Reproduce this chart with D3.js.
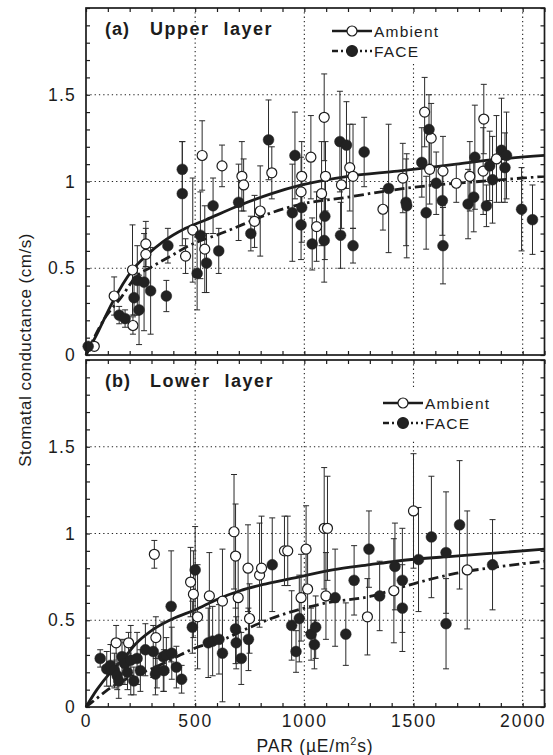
<!DOCTYPE html>
<html><head><meta charset="utf-8">
<script src="https://cdn.jsdelivr.net/npm/d3@7"></script>
<style>body{margin:0;background:#fff}text{font-family:"Liberation Sans",Arial,Helvetica,sans-serif;fill:#1c1c1c}</style>
</head><body><svg id="c" width="553" height="755"></svg>
<script>
// ---------- data (PAR, conductance, error) ----------
const upperAmbient = [
 [38,0.05,0.02],[129,0.34,0.11],[213,0.49,0.26],[215,0.17,0.05],[274,0.64,0.13],[274,0.58,0.15],
 [456,0.57,0.1],[489,0.72,0.3],[532,1.15,0.2],[544,0.61,0.25],[623,1.09,0.12],[714,1.03,0.2],
 [722,0.98,0.15],[772,0.77,0.15],[798,0.83,0.26],[851,1.05,0.15],[985,0.94,0.2],[988,1.03,0.2],
 [1030,1.14,0.24],[1056,0.74,0.2],[1079,0.93,0.3],[1091,1.37,0.25],[1097,1.03,0.2],[1170,0.98,0.25],
 [1208,1.08,0.25],[1223,1.03,0.3],[1360,0.84,0.12],[1451,1.02,0.2],[1551,1.40,0.2],[1574,1.07,0.2],
 [1581,1.25,0.2],[1635,1.06,0.2],[1696,0.99,0.11],[1758,1.03,0.2],[1819,1.06,0.25],[1822,1.36,0.2],[1880,1.13,0.25]
];
const upperFACE = [
 [10,0.05,0.02],[152,0.23,0.05],[179,0.21,0.05],[220,0.33,0.1],[243,0.26,0.2],[235,0.43,0.2],
 [266,0.42,0.28],[296,0.37,0.25],[368,0.34,0.09],[375,0.63,0.1],[441,1.07,0.16],[441,0.93,0.3],
 [509,0.47,0.21],[524,0.69,0.25],[552,0.53,0.17],[582,0.86,0.16],[608,0.60,0.13],[699,0.88,0.22],
 [755,0.70,0.1],[836,1.24,0.23],[945,0.82,0.28],[957,1.15,0.25],[985,0.75,0.2],[988,0.85,0.2],
 [1036,0.64,0.15],[1091,0.66,0.24],[1094,0.80,0.25],[1163,1.23,0.29],[1166,0.69,0.19],[1193,1.21,0.25],
 [1223,0.63,0.1],[1274,1.17,0.2],[1386,0.96,0.37],[1466,0.88,0.25],[1469,0.86,0.3],[1538,1.11,0.2],
 [1558,0.82,0.21],[1571,1.30,0.2],[1604,0.99,0.18],[1632,0.89,0.2],[1635,0.63,0.22],[1750,0.87,0.2],
 [1776,0.91,0.2],[1781,1.14,0.3],[1834,0.86,0.12],[1849,1.09,0.2],[1862,1.01,0.25],[1903,1.18,0.3],
 [1919,1.08,0.2],[1926,1.15,0.25],[1995,0.84,0.24],[2045,0.78,0.2]
];
const upperAmbientFit = [[0,0],[50,0.12],[120,0.3],[213,0.49],[274,0.57],[350,0.65],[456,0.73],[550,0.78],
 [699,0.86],[850,0.93],[988,0.98],[1200,1.03],[1428,1.06],[1696,1.10],[1900,1.13],[2100,1.15]];
const upperFACEFit = [[0,0],[90,0.22],[160,0.33],[228,0.45],[304,0.51],[388,0.57],[456,0.62],[638,0.71],
 [714,0.75],[850,0.82],[988,0.87],[1200,0.91],[1400,0.95],[1600,0.98],[1800,1.0],[2100,1.03]];

const lowerAmbient = [
 [138,0.37,0.1],[195,0.37,0.06],[313,0.88,0.08],[320,0.40,0.12],[479,0.72,0.2],[492,0.65,0.25],
 [511,0.52,0.3],[565,0.64,0.25],[625,0.61,0.3],[678,1.01,0.33],[685,0.87,0.3],[697,0.63,0.25],
 [742,0.80,0.25],[749,0.51,0.2],[795,0.76,0.3],[804,0.80,0.3],[909,0.90,0.2],[924,0.90,0.2],
 [985,0.63,0.25],[1008,0.91,0.25],[1015,0.68,0.25],[1091,1.03,0.35],[1106,1.03,0.3],[1099,0.64,0.25],
 [1289,0.52,0.22],[1410,0.67,0.3],[1500,1.13,0.33],[1746,0.79,0.34]
];
const lowerFACE = [
 [65,0.28,0.05],[95,0.22,0.1],[112,0.24,0.12],[130,0.21,0.1],[143,0.18,0.08],[150,0.15,0.1],
 [165,0.29,0.1],[178,0.25,0.12],[190,0.2,0.1],[205,0.27,0.2],[219,0.15,0.08],[234,0.28,0.15],
 [249,0.21,0.12],[272,0.33,0.15],[308,0.32,0.15],[318,0.19,0.12],[325,0.21,0.1],[354,0.29,0.2],
 [357,0.21,0.12],[368,0.30,0.1],[390,0.58,0.32],[393,0.31,0.15],[414,0.23,0.12],[438,0.16,0.08],
 [487,0.46,0.15],[500,0.79,0.25],[560,0.37,0.2],[580,0.38,0.2],[609,0.39,0.2],[625,0.31,0.28],
 [685,0.45,0.2],[688,0.37,0.15],[711,0.28,0.15],[744,0.39,0.18],[853,0.82,0.27],[942,0.47,0.2],
 [962,0.32,0.12],[977,0.51,0.25],[1031,0.42,0.15],[1046,0.36,0.14],[1052,0.46,0.18],[1141,0.63,0.28],
 [1190,0.42,0.18],[1228,0.73,0.2],[1296,0.91,0.22],[1345,0.64,0.2],[1415,0.81,0.25],[1449,0.73,0.3],
 [1449,0.57,0.25],[1523,0.85,0.3],[1582,0.98,0.35],[1649,0.89,0.35],[1649,0.48,0.26],[1711,1.05,0.37],[1862,0.82,0.26]
];
const lowerAmbientFit = [[0,0],[50,0.1],[112,0.2],[173,0.28],[225,0.36],[300,0.44],[400,0.51],[500,0.56],
 [600,0.62],[705,0.67],[825,0.71],[977,0.75],[1129,0.79],[1300,0.82],[1418,0.84],[1692,0.87],[1900,0.89],[2100,0.91]];
const lowerFACEFit = [[0,0],[50,0.05],[100,0.1],[200,0.17],[300,0.22],[400,0.28],[500,0.34],[633,0.39],
 [700,0.43],[848,0.51],[1000,0.57],[1100,0.60],[1312,0.64],[1418,0.68],[1500,0.71],[1692,0.77],[1900,0.81],[2100,0.84]];

const yTickValues = [0, 0.5, 1, 1.5];
const xTickValues = [0, 500, 1000, 1500, 2000];
const seriesNames = ["Ambient", "FACE"];
const panelTitles = [["(a)", "Upper", "layer"], ["(b)", "Lower", "layer"]];
const yTitle = "Stomatal conductance (cm/s)";

// ---------- drawing ----------
const svg = d3.select("#c");
const ink = "#1c1c1c";
const x = d3.scaleLinear().domain([0, 2100]).range([86, 544.5]);
const L = 86, R = 544.5;
const FONT = '"Liberation Sans",Arial,sans-serif';

function panel(yr, amb, face, ambFit, faceFit, title, leg, showX) {
  const y = d3.scaleLinear().domain([0, 2]).range(yr);
  const g = svg.append("g");
  const T = yr[1], B = yr[0];
  // grid
  g.selectAll(".gx").data([500, 1000, 1500, 2000]).join("line")
    .attr("x1", d => x(d)).attr("x2", d => x(d)).attr("y1", T).attr("y2", B)
    .attr("stroke", "#222").attr("stroke-width", 1.1).attr("stroke-dasharray", "1.3,3");
  g.selectAll(".gy").data([0.5, 1, 1.5]).join("line")
    .attr("x1", L).attr("x2", R).attr("y1", d => y(d)).attr("y2", d => y(d))
    .attr("stroke", "#222").attr("stroke-width", 1.1).attr("stroke-dasharray", "1.3,3");
  // fits
  const line = d3.line().x(d => x(d[0])).y(d => y(d[1])).curve(d3.curveMonotoneX);
  g.append("path").attr("d", line(ambFit)).attr("fill", "none").attr("stroke", ink).attr("stroke-width", 2.8);
  g.append("path").attr("d", line(faceFit)).attr("fill", "none").attr("stroke", ink).attr("stroke-width", 2.8)
    .attr("stroke-dasharray", "10,4,2.5,4");
  // error bars
  const all = amb.concat(face);
  const eb = g.append("g").attr("stroke", "#2a2a2a").attr("stroke-width", 1);
  all.forEach(d => {
    const cx = x(d[0]), y1 = y(Math.min(2, d[1] + d[2])), y0 = y(Math.max(0, d[1] - d[2]));
    eb.append("line").attr("x1", cx).attr("x2", cx).attr("y1", y1).attr("y2", y0);
    eb.append("line").attr("x1", cx - 3).attr("x2", cx + 3).attr("y1", y1).attr("y2", y1);
    eb.append("line").attr("x1", cx - 3).attr("x2", cx + 3).attr("y1", y0).attr("y2", y0);
  });
  // points
  g.selectAll(".pa").data(amb).join("circle").attr("cx", d => x(d[0])).attr("cy", d => y(d[1])).attr("r", 5)
    .attr("fill", "#fff").attr("stroke", ink).attr("stroke-width", 1.2);
  g.selectAll(".pf").data(face).join("circle").attr("cx", d => x(d[0])).attr("cy", d => y(d[1])).attr("r", 5.4)
    .attr("fill", "#222").attr("stroke", "#222").attr("stroke-width", 0.5);
  // legend
  g.append("rect").attr("x", leg.bx).attr("y", leg.by).attr("width", leg.bw).attr("height", leg.bh).attr("fill", "#fff");
  [0, 1].forEach(i => {
    const ly = leg.y + i * 20;
    g.append("line").attr("x1", leg.x).attr("x2", leg.x + 40).attr("y1", ly).attr("y2", ly)
      .attr("stroke", ink).attr("stroke-width", 2.4).attr("stroke-dasharray", i ? "6,3,2,3,2,3" : null);
    g.append("circle").attr("cx", leg.x + 20).attr("cy", ly).attr("r", i ? 5.4 : 5)
      .attr("fill", i ? "#222" : "#fff").attr("stroke", ink).attr("stroke-width", 1.2);
    g.append("text").attr("x", leg.x + 42).attr("y", ly + 5.5).attr("font-size", 15.5).attr("letter-spacing", 1.2)
      .text(seriesNames[i]);
  });
  // title
  const t = g.append("text").attr("x", 105).attr("y", T + 27).attr("font-size", 18);
  t.append("tspan").text(title[0]).attr("font-weight", "bold").attr("letter-spacing", 1);
  t.append("tspan").attr("x", 150).text(title[1]).attr("font-weight", "bold").attr("letter-spacing", 1.5);
  t.append("tspan").attr("dx", 14).text(title[2]).attr("font-weight", "bold").attr("letter-spacing", 1.5);
  // frame
  g.append("rect").attr("x", L).attr("y", T).attr("width", R - L).attr("height", B - T)
    .attr("fill", "none").attr("stroke", ink).attr("stroke-width", 1.7);
  // minor ticks via axes (inward)
  const minorY = d3.range(0, 2.001, 0.1);
  const minorX = d3.range(0, 2101, 100);
  const noDom = a => a.select(".domain").remove();
  g.append("g").attr("transform", `translate(${L},0)`).call(d3.axisRight(y).tickValues(minorY).tickSize(4).tickFormat("")).call(noDom);
  g.append("g").attr("transform", `translate(${R},0)`).call(d3.axisLeft(y).tickValues(minorY).tickSize(4).tickFormat("")).call(noDom);
  g.append("g").attr("transform", `translate(0,${T})`).call(d3.axisBottom(x).tickValues(minorX).tickSize(4).tickFormat("")).call(noDom);
  g.append("g").attr("transform", `translate(0,${B})`).call(d3.axisTop(x).tickValues(minorX).tickSize(4).tickFormat("")).call(noDom);
  g.selectAll(".tick line").attr("stroke", ink).attr("stroke-width", 1.2);
  // labels
  const ya = g.append("g").attr("transform", `translate(${L},0)`)
    .call(d3.axisLeft(y).tickValues(yTickValues).tickSize(0).tickPadding(10).tickFormat(d => String(d)));
  ya.select(".domain").remove();
  ya.selectAll("text").attr("font-size", 17.5).attr("letter-spacing", 1.2).attr("fill", ink).style("font-family", FONT);
  if (showX) {
    const xa = g.append("g").attr("transform", `translate(0,${B})`)
      .call(d3.axisBottom(x).tickValues(xTickValues).tickSize(0).tickPadding(8).tickFormat(d => String(d)));
    xa.select(".domain").remove();
    xa.selectAll("text").attr("font-size", 17.5).attr("letter-spacing", 1.8).attr("fill", ink).style("font-family", FONT);
  }
}

panel([355, 8], upperAmbient, upperFACE, upperAmbientFit, upperFACEFit, panelTitles[0],
  {x: 332, y: 31, bx: 318, by: 14, bw: 128, bh: 50}, false);
panel([707, 360], lowerAmbient, lowerFACE, lowerAmbientFit, lowerFACEFit, panelTitles[1],
  {x: 383, y: 403, bx: 372, by: 387, bw: 128, bh: 52}, true);

svg.append("text").attr("transform", "translate(31,350) rotate(-90)").attr("text-anchor", "middle")
  .attr("font-size", 17).attr("letter-spacing", 0.5).text(yTitle);
const xt = svg.append("text").attr("x", 315).attr("y", 752).attr("text-anchor", "middle").attr("font-size", 17.5).attr("letter-spacing", 0.8);
xt.append("tspan").text("PAR (\u00b5E/m");
xt.append("tspan").attr("dy", -7).attr("font-size", 11).text("2");
xt.append("tspan").attr("dy", 7).text("s)");
</script></body></html>
